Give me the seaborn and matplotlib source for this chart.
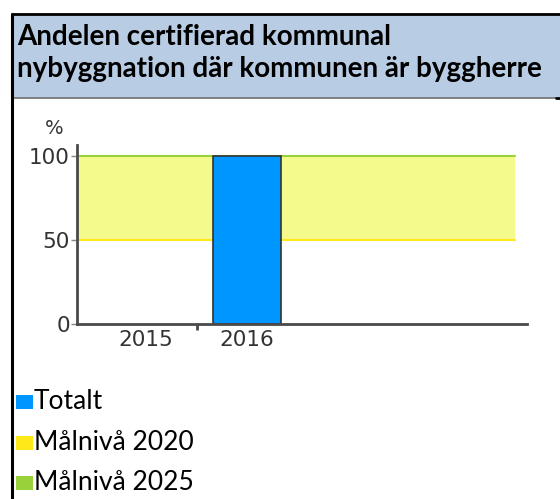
import numpy as np
import pandas as pd
import matplotlib
matplotlib.use("Agg")
import matplotlib.pyplot as plt
from matplotlib.patches import Rectangle
from matplotlib.lines import Line2D
import seaborn as sns

# ---- data ----
years = ["2015", "2016"]
totalt = [np.nan, 100]
mal_2020 = 50
mal_2025 = 100
legend_labels = ["Totalt", "Målnivå 2020", "Målnivå 2025"]
title_lines = ["Andelen certifierad kommunal", "nybyggnation där kommunen är byggherre"]
y_ticks = [0, 50, 100]

# ---- style ----
sns.set_style("white")
plt.rcParams["font.family"] = ["DejaVu Sans"]

W, H = 560, 499
fig = plt.figure(figsize=(W / 100, H / 100), dpi=100)
fig.patch.set_facecolor("white")

def fx(x):
    return x / W

def fy(y):
    return 1 - y / H

BLUE = "#0096FF"
YELLOW_FILL = "#F5FA8C"
YELLOW = "#FFE81A"
GREEN = "#99D13A"
AX_COL = "#4a4a4a"
TXT_COL = "#333333"

# header box
fig.patches.append(Rectangle((fx(12), fy(98)), fx(560 - 12), 84 / H, transform=fig.transFigure,
                             facecolor="#B8CCE4", edgecolor="none", zorder=0))
fig.add_artist(Line2D([fx(12), fx(560)], [fy(14), fy(14)], transform=fig.transFigure, color="black", lw=2))
fig.add_artist(Line2D([fx(12), fx(556)], [fy(98), fy(98)], transform=fig.transFigure, color="#707070", lw=1.2))
fig.add_artist(Line2D([fx(556), fx(560)], [fy(98), fy(98)], transform=fig.transFigure, color="black", lw=2))
fig.add_artist(Line2D([fx(12), fx(12)], [fy(14), fy(499)], transform=fig.transFigure, color="black", lw=2.2))

fig.text(fx(17), fy(45), title_lines[0], fontsize=20, fontweight="bold", family=["Lato"],
         color="black", va="baseline", ha="left")
fig.text(fx(17), fy(77), title_lines[1], fontsize=20, fontweight="bold", family=["Lato"],
         color="black", va="baseline", ha="left")

# ---- axes ----
ax_left, ax_right, ax_top, ax_bottom = 77, 527, 145, 324
ax = fig.add_axes([fx(ax_left), fy(ax_bottom), (ax_right - ax_left) / W, (ax_bottom - ax_top) / H])
ax.set_facecolor("white")

df = pd.DataFrame({"year": years, "value": totalt})
sns.barplot(data=df, x="year", y="value", order=years, color=BLUE, width=0.67,
            edgecolor="#333333", linewidth=1.2, saturation=1, ax=ax, zorder=3)

x0, x1 = -0.683, 3.77
band_end = 3.65
ax.fill_between([x0, band_end], mal_2020, mal_2025, color=YELLOW_FILL, lw=0, zorder=1)
ax.plot([x0, band_end], [mal_2020, mal_2020], color=YELLOW, lw=1.5, zorder=2)
ax.plot([x0, band_end], [mal_2025, mal_2025], color=GREEN, lw=1.5, zorder=2)

ax.set_xlim(x0, x1)
ax.set_ylim(0, 106.5)
ax.set_xlabel("")
ax.set_ylabel("")
ax.set_yticks(y_ticks)
ax.set_yticklabels([str(v) for v in y_ticks])
ax.set_xticks(range(len(years)))
ax.set_xticklabels(years)
ax.set_xticks([0.5], minor=True)

for s in ["top", "right"]:
    ax.spines[s].set_visible(False)
for s in ["left", "bottom"]:
    ax.spines[s].set_color(AX_COL)
    ax.spines[s].set_linewidth(2)
    ax.spines[s].set_zorder(4)

ax.tick_params(axis="y", which="major", left=True, length=4, width=1, color="#888888",
               labelsize=15.5, labelcolor=TXT_COL, pad=1)
ax.tick_params(axis="x", which="major", bottom=False, labelsize=15.5, labelcolor=TXT_COL, pad=1)
ax.tick_params(axis="x", which="minor", bottom=True, length=4, width=2, color=AX_COL)

fig.text(fx(45), fy(134), "%", fontsize=14, color=TXT_COL, va="baseline", ha="left")

# ---- legend ----
leg_colors = [BLUE, YELLOW, GREEN]
baselines = [409, 450, 490]
for lab, col, b in zip(legend_labels, leg_colors, baselines):
    fig.patches.append(Rectangle((fx(16), fy(b)), 17 / W, 14 / H, transform=fig.transFigure,
                                 facecolor=col, edgecolor="none"))
    fig.text(fx(34), fy(b), lab, fontsize=19, family=["Lato"], color="black",
             va="baseline", ha="left")

fig.savefig("out.png", dpi=100)
